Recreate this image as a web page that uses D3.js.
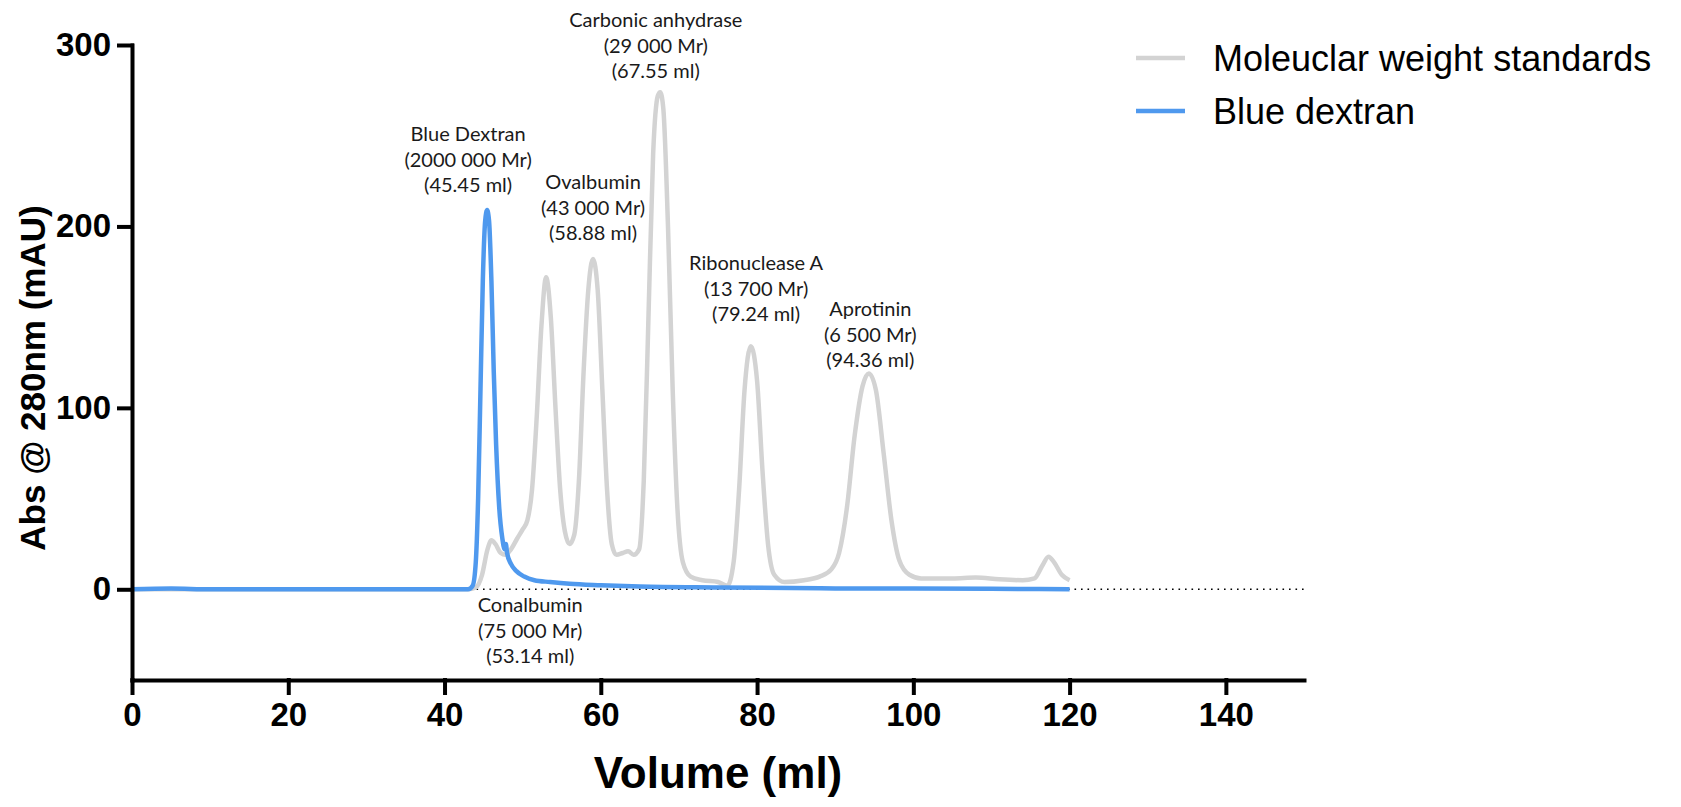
<!DOCTYPE html>
<html>
<head>
<meta charset="utf-8">
<script src="https://cdn.jsdelivr.net/npm/d3@7"></script>
<style>
  body { margin: 0; background: #fff; }
  svg { display: block; }
</style>
</head>
<body>
<div id="chart"></div>
<script>
// molecular weight standards trace (volume in ml, absorbance in mAU)
const standardsVolume = [
  0, 10, 20, 30, 40, 43, 44, 44.8, 45.5, 46, 46.5, 47.2, 47.8, 48.5, 49.3, 50, 50.6,
  51.2, 51.8, 52.4, 53, 53.6, 54.2, 54.8, 55.4, 56, 56.6, 57.2, 57.8, 58.4, 59, 59.6,
  60.2, 60.8, 61.4, 62, 62.8, 63.5, 64.2, 64.9, 65.5, 66.1, 66.7, 67.3, 67.6, 68, 68.6,
  69.2, 69.8, 70.5, 71.5, 73, 75, 76.2, 77, 77.7, 78.4, 79.2, 80, 80.7, 81.4, 82.2,
  83.5, 86, 88, 89.5, 90.5, 91.5, 92.5, 93.5, 94.3, 95.2, 96.2, 97.2, 98.2, 99.5,
  101, 105, 108, 111, 114, 115.5, 116.5, 117.3, 118, 119, 120
];
const standardsAbs = [
  0, 0, 0, 0, 0, 0, 1, 8, 22, 27, 25, 20, 19, 22, 28, 33, 38,
  55, 95, 145, 172, 150, 100, 55, 32, 25, 30, 60, 120, 165, 182, 165,
  110, 55, 25, 19, 20, 21, 19, 22, 60, 150, 240, 272, 274, 265, 200,
  110, 45, 15, 7, 5, 4, 2, 15, 55, 110, 134, 115, 65, 25, 8,
  4, 5, 7, 11, 20, 45, 85, 112, 119, 110, 75, 38, 16, 8,
  6, 6, 6.5, 5.5, 5, 6, 13, 18, 15, 8, 5
];

// blue dextran trace
const dextranVolume = [
  0, 5, 10, 20, 30, 40, 43, 43.6, 44, 44.3, 44.6, 44.9, 45.2, 45.45, 45.7, 46, 46.3,
  46.6, 47, 47.4, 47.7, 47.85, 48, 48.5, 49.2, 50.2, 51.5, 53.5, 56, 60, 65, 75, 90,
  110, 120
];
const dextranAbs = [
  0, 0.4, 0, 0, 0, 0, 0, 2, 15, 50, 110, 170, 203, 209, 203, 170, 120,
  80, 45, 28, 22, 25, 20, 14, 10, 7, 5, 4, 3, 2.2, 1.5, 1, 0.5,
  0.3, 0
];

// peak annotations
const peakNames = ['Blue Dextran', 'Conalbumin', 'Ovalbumin', 'Carbonic anhydrase', 'Ribonuclease A', 'Aprotinin'];
const peakMr = ['2000 000 Mr', '75 000 Mr', '43 000 Mr', '29 000 Mr', '13 700 Mr', '6 500 Mr'];
const peakMl = [45.45, 53.14, 58.88, 67.55, 79.24, 94.36];
const peakAbs = [209, 0, 182, 274, 134, 119];

const xTicks = [0, 20, 40, 60, 80, 100, 120, 140];
const yTicks = [0, 100, 200, 300];

const seriesNames = ['Moleuclar weight standards', 'Blue dextran'];
const seriesColors = ['#d3d3d3', '#4f99ee'];

// label placement (px offsets from the peak)
const labelLayout = [
  { dx: -19, dy: -76 },
  { dx: -17, dy: 16 },
  { dx: 1, dy: -77 },
  { dx: -4, dy: -72 },
  { dx: 5, dy: -83 },
  { dx: 1, dy: -64 }
];

const width = 1681;
const height = 807;

const svg = d3.select('#chart')
  .append('svg')
  .attr('width', width)
  .attr('height', height);

const x = d3.scaleLinear().domain([0, 150]).range([132, 1304]);
const y = d3.scaleLinear().domain([-50, 300]).range([680, 45]);

// dotted baseline
svg.append('line')
  .attr('x1', x(0)).attr('x2', x(150))
  .attr('y1', y(0)).attr('y2', y(0))
  .attr('stroke', '#000')
  .attr('stroke-width', 1.6)
  .attr('stroke-dasharray', '1.6,4.9');

const line = d3.line()
  .x(d => x(d[0]))
  .y(d => y(d[1]))
  .curve(d3.curveMonotoneX);

const standards = standardsVolume.map((v, i) => [v, standardsAbs[i]]);
const dextran = dextranVolume.map((v, i) => [v, dextranAbs[i]]);

svg.append('path')
  .datum(standards)
  .attr('d', line)
  .attr('fill', 'none')
  .attr('stroke', seriesColors[0])
  .attr('stroke-width', 4.5)
  .attr('stroke-linejoin', 'round');

svg.append('path')
  .datum(dextran)
  .attr('d', line)
  .attr('fill', 'none')
  .attr('stroke', seriesColors[1])
  .attr('stroke-width', 4.5)
  .attr('stroke-linejoin', 'round');

// axes
const xAxis = d3.axisBottom(x).tickValues(xTicks).tickSize(13).tickSizeOuter(0).tickPadding(10);
const yAxis = d3.axisLeft(y).tickValues(yTicks).tickSize(13).tickSizeOuter(0).tickPadding(8);

const xAxisGroup = svg.append('g')
  .attr('transform', `translate(0, ${y(-50)})`)
  .call(xAxis);
const yAxisGroup = svg.append('g')
  .attr('transform', `translate(${x(0)}, 0)`)
  .call(yAxis);

[xAxisGroup, yAxisGroup].forEach(g => {
  g.selectAll('path, line')
    .attr('stroke', '#000')
    .attr('stroke-width', 4)
    .attr('stroke-linecap', 'square');
  g.selectAll('text')
    .attr('fill', '#000')
    .style('font-family', '"Liberation Sans", Arial, sans-serif')
    .style('font-weight', 'bold')
    .style('font-size', '33px');
});

// axis titles
svg.append('text')
  .attr('x', (x(0) + x(150)) / 2)
  .attr('y', 788)
  .attr('text-anchor', 'middle')
  .style('font-family', '"Liberation Sans", Arial, sans-serif')
  .style('font-weight', 'bold')
  .style('font-size', '44px')
  .text('Volume (ml)');

svg.append('text')
  .attr('transform', 'translate(45, 378) rotate(-90)')
  .attr('text-anchor', 'middle')
  .style('font-family', '"Liberation Sans", Arial, sans-serif')
  .style('font-weight', 'bold')
  .style('font-size', '35px')
  .text('Abs @ 280nm (mAU)');

// peak labels
peakNames.forEach((name, i) => {
  const lines = [name, `(${peakMr[i]})`, `(${peakMl[i].toFixed(2)} ml)`];
  const t = svg.append('text')
    .attr('text-anchor', 'middle')
    .attr('fill', '#1a1a1a')
    .style('font-family', 'Lato, "Open Sans", sans-serif')
    .style('font-size', '20px');
  lines.forEach((s, j) => {
    t.append('tspan')
      .attr('x', x(peakMl[i]) + labelLayout[i].dx)
      .attr('y', y(peakAbs[i]) + labelLayout[i].dy + j * 25.5)
      .attr('dy', '0.35em')
      .text(s);
  });
});

// legend
const legend = svg.append('g');
seriesNames.forEach((name, i) => {
  const ly = 58 + i * 53;
  legend.append('line')
    .attr('x1', 1136).attr('x2', 1185)
    .attr('y1', ly).attr('y2', ly)
    .attr('stroke', seriesColors[i])
    .attr('stroke-width', 4.5);
  legend.append('text')
    .attr('x', 1213)
    .attr('y', ly)
    .attr('dy', '0.35em')
    .style('font-family', '"Liberation Sans", Arial, sans-serif')
    .style('font-size', '36px')
    .text(name);
});
</script>
</body>
</html>
